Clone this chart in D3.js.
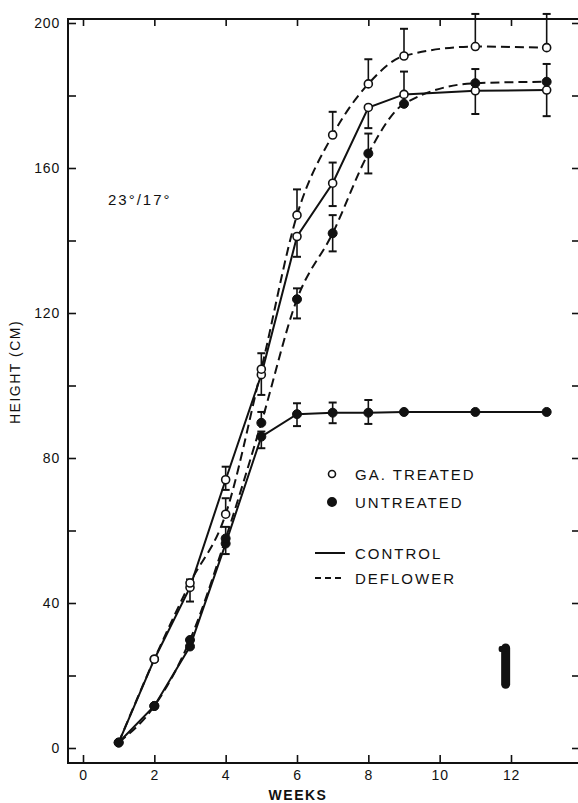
<!DOCTYPE html>
<html><head><meta charset="utf-8">
<script src="https://cdn.jsdelivr.net/npm/d3@7"></script>
<style>
html,body{margin:0;padding:0;background:#fff;}
svg{display:block;}
text{font-family:"Liberation Sans",Arial,sans-serif;fill:#111;}
</style></head>
<body>
<svg id="chart" width="578" height="803"></svg>
<script>
// ---- data ----
const weeks = [1, 2, 3, 4, 5, 6, 7, 8, 9, 11, 13];
const gaControl        = [1.5, 24.5, 44.3, 74.0, 103.0, 141.1, 155.8, 176.7, 180.3, 181.3, 181.5];
const gaDeflower       = [1.5, 24.5, 45.5, 64.5, 104.5, 147.0, 169.1, 183.2, 190.9, 193.5, 193.2];
const untreatedControl = [1.5, 11.6, 28.0, 56.4, 85.9, 92.1, 92.5, 92.5, 92.7, 92.7, 92.7];
const untreatedDeflower= [1.5, 11.6, 29.8, 57.8, 89.7, 123.8, 142.0, 164.0, 177.7, 183.4, 183.8];

// error bar extents below / above the mean (0 = not drawn)
const gaControlErrLo        = [0, 0, 3.9, 2.8, 5.6, 5.6, 6.3, 5.7, 0, 6.4, 7.2];
const gaControlErrHi        = [0, 0, 2.2, 3.6, 0, 0, 5.7, 0, 6.3, 0, 0];
const gaDeflowerErrLo       = [0, 0, 0, 0, 0, 0, 0, 0, 0, 0, 0];
const gaDeflowerErrHi       = [0, 0, 0, 4.4, 4.4, 7.1, 6.4, 6.8, 7.5, 9.0, 9.3];
const untreatedControlErrLo = [0, 0, 0, 2.9, 3.2, 3.3, 2.9, 3.1, 0, 0, 0];
const untreatedControlErrHi = [0, 0, 0, 0, 1.4, 3.0, 2.8, 3.5, 0, 0, 0];
const untreatedDeflowerErrLo= [0, 0, 0, 0, 0, 5.3, 5.0, 5.5, 0, 0, 0];
const untreatedDeflowerErrHi= [0, 0, 0, 3.2, 3.0, 3.0, 5.0, 5.5, 0, 3.9, 4.9];

const xTicks = [0, 2, 4, 6, 8, 10, 12];
const yTicks = [0, 20, 40, 60, 80, 100, 120, 140, 160, 180, 200];
const yLabelTicks = [0, 40, 80, 120, 160, 200];
const legendMarkers = ["GA. TREATED", "UNTREATED"];
const legendLines = ["CONTROL", "DEFLOWER"];
const conditionLabel = "23°/17°";
const xTitle = "WEEKS";
const yTitle = "HEIGHT (CM)";
// stray ink mark in original figure (week, low, high)
const smudgeWeek = [11.85];
const smudgeRange = [17.6, 27.6];

// ---- layout ----
const svg = d3.select("#chart");
const x = d3.scaleLinear().domain([0, 12]).range([83, 511]);
const y = d3.scaleLinear().domain([0, 200]).range([748, 23]);
const pLeft = 68, pRight = 580, pTop = 19, pBottom = 763;

const ink = "#111";

// frame
svg.append("path")
  .attr("d", `M${pRight},${pTop}H${pLeft}V${pBottom}H${pRight}`)
  .attr("fill", "none").attr("stroke", ink).attr("stroke-width", 2);

// left axis
const gL = svg.append("g").attr("transform", `translate(${pLeft},0)`)
  .call(d3.axisLeft(y).tickValues(yTicks).tickSizeInner(-8).tickSizeOuter(0).tickPadding(8)
    .tickFormat(d => yLabelTicks.includes(d) ? d : ""));
// right ticks
const gR = svg.append("g").attr("transform", `translate(${pRight},0)`)
  .call(d3.axisRight(y).tickValues(yTicks).tickSizeInner(-8).tickSizeOuter(0).tickFormat(""));
// bottom axis
const gB = svg.append("g").attr("transform", `translate(0,${pBottom})`)
  .call(d3.axisBottom(x).tickValues(xTicks).tickSizeInner(-8).tickSizeOuter(0).tickPadding(7));
// top ticks
const gT = svg.append("g").attr("transform", `translate(0,${pTop})`)
  .call(d3.axisTop(x).tickValues(xTicks).tickSizeInner(-7).tickSizeOuter(0).tickFormat(""));

[gL, gR, gB, gT].forEach(g => {
  g.select(".domain").remove();
  g.selectAll(".tick line").attr("stroke", ink).attr("stroke-width", 1.6);
  g.selectAll("text").attr("font-size", 14).attr("fill", ink)
    .style("font-family", '"Liberation Sans",Arial,sans-serif').attr("letter-spacing", 0.8);
});

// titles
svg.append("text").attr("x", 298).attr("y", 800).attr("text-anchor", "middle")
  .attr("font-size", 14).attr("font-weight", "bold").attr("letter-spacing", 1.5).text(xTitle);
svg.append("text").attr("transform", "translate(20,372) rotate(-90)").attr("text-anchor", "middle")
  .attr("font-size", 14).attr("letter-spacing", 1.5).text(yTitle);
svg.append("text").attr("x", 108).attr("y", 205).attr("font-size", 15).attr("letter-spacing", 2).text(conditionLabel);

// series
const series = [
  {vals: gaControl, lo: gaControlErrLo, hi: gaControlErrHi, open: true, dashed: false},
  {vals: gaDeflower, lo: gaDeflowerErrLo, hi: gaDeflowerErrHi, open: true, dashed: true},
  {vals: untreatedControl, lo: untreatedControlErrLo, hi: untreatedControlErrHi, open: false, dashed: false},
  {vals: untreatedDeflower, lo: untreatedDeflowerErrLo, hi: untreatedDeflowerErrHi, open: false, dashed: true}
];

const lineSolid = d3.line().x(d => x(d[0])).y(d => y(d[1]));
const lineCurve = d3.line().x(d => x(d[0])).y(d => y(d[1])).curve(d3.curveMonotoneX);

series.forEach(s => {
  const pts = weeks.map((w, i) => [w, s.vals[i]]);
  svg.append("path").datum(pts)
    .attr("d", s.dashed ? lineCurve : lineSolid)
    .attr("fill", "none").attr("stroke", ink).attr("stroke-width", 2)
    .attr("stroke-dasharray", s.dashed ? "9,5" : null);
});

// error bars
series.forEach(s => {
  weeks.forEach((w, i) => {
    const lo = s.lo[i], hi = s.hi[i];
    if (!lo && !hi) return;
    const cx = x(w);
    const y0 = y(s.vals[i] - lo), y1 = y(s.vals[i] + hi);
    svg.append("line").attr("x1", cx).attr("x2", cx).attr("y1", y0).attr("y2", y1)
      .attr("stroke", ink).attr("stroke-width", 1.6);
    if (lo) svg.append("line").attr("x1", cx - 4).attr("x2", cx + 4).attr("y1", y0).attr("y2", y0)
      .attr("stroke", ink).attr("stroke-width", 2);
    if (hi) svg.append("line").attr("x1", cx - 4).attr("x2", cx + 4).attr("y1", y1).attr("y2", y1)
      .attr("stroke", ink).attr("stroke-width", 2);
  });
});

// markers: open first, filled on top
[...series].sort((a, b) => (a.open === b.open ? 0 : a.open ? -1 : 1)).forEach(s => {
  weeks.forEach((w, i) => {
    if (s.open && i === 0) return; // shared starting point drawn as filled
    svg.append("circle").attr("cx", x(w)).attr("cy", y(s.vals[i]))
      .attr("r", s.open ? 4 : 4.5)
      .attr("fill", s.open ? "#fff" : ink)
      .attr("stroke", ink).attr("stroke-width", s.open ? 1.6 : 1);
  });
});

// smudge
smudgeWeek.forEach(w => {
  svg.append("line").attr("x1", x(w)).attr("x2", x(w))
    .attr("y1", y(smudgeRange[0])).attr("y2", y(smudgeRange[1]))
    .attr("stroke", ink).attr("stroke-width", 9).attr("stroke-linecap", "round");
  svg.append("rect").attr("x", x(w) - 7).attr("y", y(smudgeRange[1]) - 2)
    .attr("width", 8).attr("height", 6).attr("rx", 2).attr("fill", ink);
});

// legend
const lg = svg.append("g");
legendMarkers.forEach((t, i) => {
  const yy = 474 + i * 28;
  lg.append("circle").attr("cx", 332).attr("cy", yy).attr("r", i === 0 ? 3.5 : 4.2)
    .attr("fill", i === 0 ? "#fff" : ink).attr("stroke", ink).attr("stroke-width", 1.6);
  lg.append("text").attr("x", 355).attr("y", yy + 5.5).attr("font-size", 15)
    .attr("letter-spacing", 2).text(t);
});
legendLines.forEach((t, i) => {
  const yy = 553 + i * 25;
  lg.append("line").attr("x1", 315).attr("x2", 345).attr("y1", yy).attr("y2", yy)
    .attr("stroke", ink).attr("stroke-width", 2)
    .attr("stroke-dasharray", i === 1 ? "6,4" : null);
  lg.append("text").attr("x", 355).attr("y", yy + 5.5).attr("font-size", 15)
    .attr("letter-spacing", 2).text(t);
});
</script>
</body></html>
